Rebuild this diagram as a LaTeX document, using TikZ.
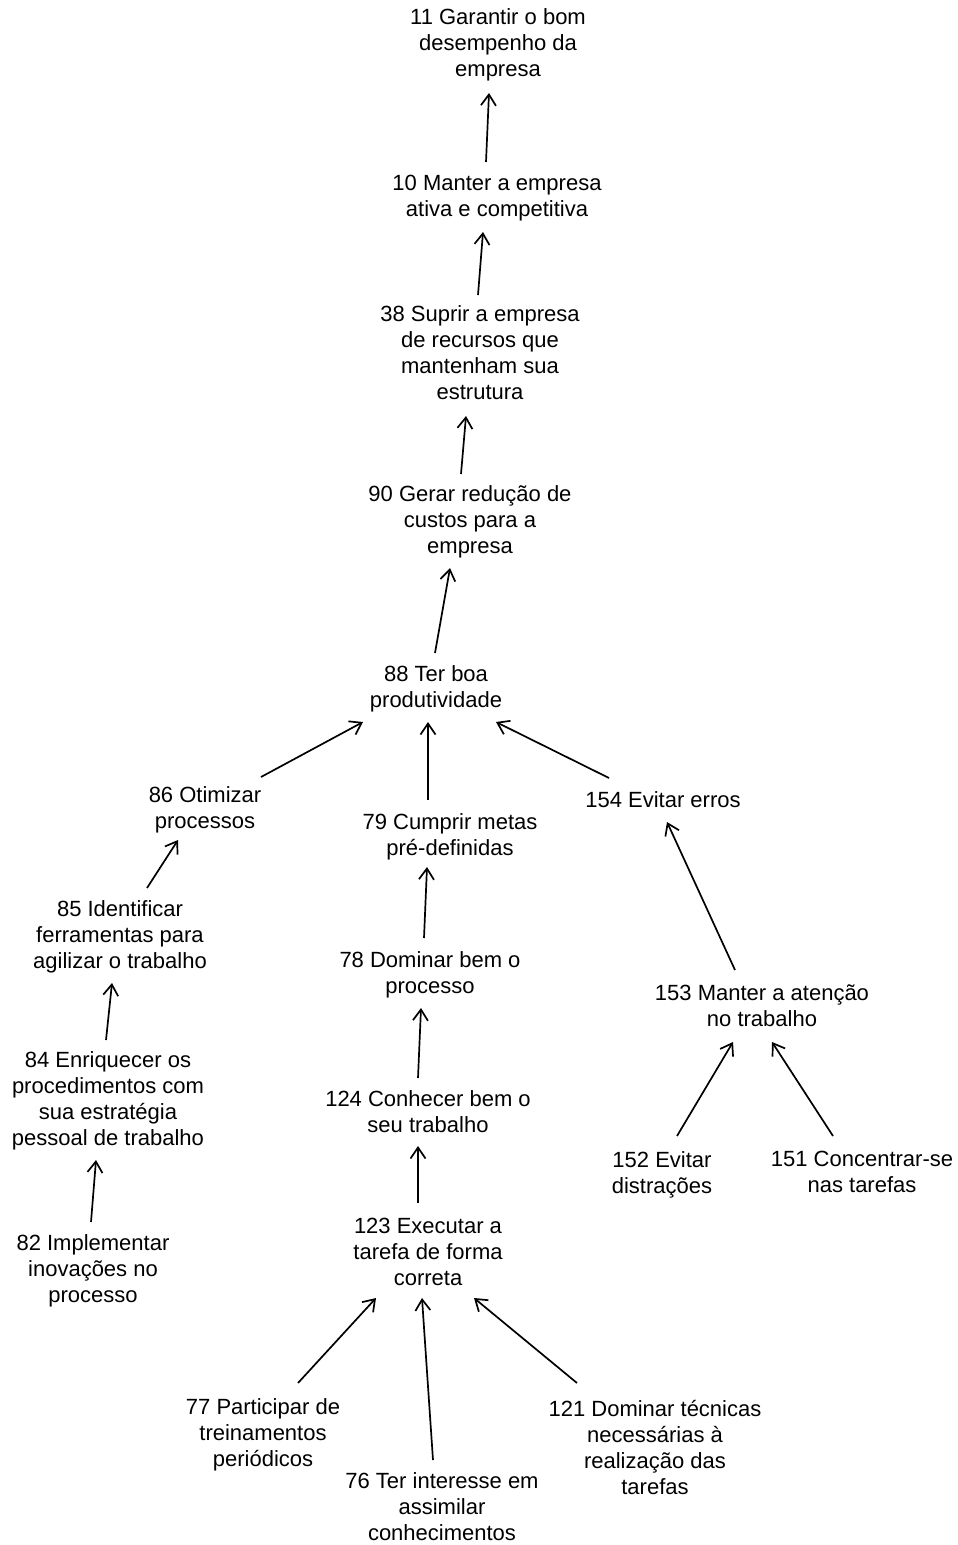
\documentclass[tikz,border=0pt]{standalone}
\usepackage{fontspec}
\setmainfont{Liberation Sans}
\usetikzlibrary{arrows.meta}
\begin{document}
\begin{tikzpicture}[x=1pt,y=-1pt,
  lbl/.style={align=center,inner sep=0pt,font=\fontsize{22}{26}\selectfont},
  arr/.style={line width=1.7pt,-{Straight Barb[length=11pt,width=15pt]}}]
\useasboundingbox (0,0) rectangle (958,1545);

% goals, top to bottom
\node[lbl] (n11)  at (498,45)   {11 Garantir o bom\\desempenho da\\empresa};
\node[lbl] (n10)  at (497,198)  {10 Manter a empresa\\ativa e competitiva};
\node[lbl] (n38)  at (480,353)  {38 Suprir a empresa\\de recursos que\\mantenham sua\\estrutura};
\node[lbl] (n90)  at (470,522)  {90 Gerar redução de\\custos para a\\empresa};
\node[lbl] (n88)  at (436,689)  {88 Ter boa\\produtividade};
\node[lbl] (n86)  at (205,810)  {86 Otimizar\\processos};
\node[lbl] (n79)  at (450,837)  {79 Cumprir metas\\pré-definidas};
\node[lbl] (n154) at (663,800)  {154 Evitar erros};
\node[lbl] (n85)  at (120,937)  {85 Identificar\\ferramentas para\\agilizar o trabalho};
\node[lbl] (n78)  at (430,975)  {78 Dominar bem o\\processo};
\node[lbl] (n153) at (762,1006) {153 Manter a atenção\\no trabalho};
\node[lbl] (n84)  at (108,1101) {84 Enriquecer os\\procedimentos com\\sua estratégia\\pessoal de trabalho};
\node[lbl] (n124) at (428,1112) {124 Conhecer bem o\\seu trabalho};
\node[lbl] (n152) at (662,1175) {152 Evitar\\distrações};
\node[lbl] (n151) at (862,1172) {151 Concentrar-se\\nas tarefas};
\node[lbl] (n82)  at (93,1271)  {82 Implementar\\inovações no\\processo};
\node[lbl] (n123) at (428,1252) {123 Executar a\\tarefa de forma\\correta};
\node[lbl] (n77)  at (263,1435) {77 Participar de\\treinamentos\\periódicos};
\node[lbl] (n121) at (655,1447) {121 Dominar técnicas\\necessárias à\\realização das\\tarefas};
\node[lbl] (n76)  at (442,1507) {76 Ter interesse em\\assimilar\\conhecimentos};

% means-end links
\draw[arr] ([shift={(-11,-36)}]n10.center)  -- ([shift={(-9,48)}]n11.center);
\draw[arr] ([shift={(-2,-58)}]n38.center)   -- ([shift={(-14,34)}]n10.center);
\draw[arr] ([shift={(-9,-48)}]n90.center)   -- ([shift={(-14,63)}]n38.center);
\draw[arr] ([shift={(-1,-36)}]n88.center)   -- ([shift={(-20,46)}]n90.center);
\draw[arr] ([shift={(56,-33)}]n86.center)   -- ([shift={(-73,33)}]n88.center);
\draw[arr] ([shift={(-22,-37)}]n79.center)  -- ([shift={(-8,33)}]n88.center);
\draw[arr] ([shift={(-54,-22)}]n154.center) -- ([shift={(60,33)}]n88.center);
\draw[arr] ([shift={(27,-49)}]n85.center)   -- ([shift={(-27,30)}]n86.center);
\draw[arr] ([shift={(-2,-61)}]n84.center)   -- ([shift={(-8,46)}]n85.center);
\draw[arr] ([shift={(-2,-49)}]n82.center)   -- ([shift={(-12,59)}]n84.center);
\draw[arr] ([shift={(-6,-37)}]n78.center)   -- ([shift={(-23,30)}]n79.center);
\draw[arr] ([shift={(-10,-34)}]n124.center) -- ([shift={(-9,33)}]n78.center);
\draw[arr] ([shift={(-10,-49)}]n123.center) -- ([shift={(-10,34)}]n124.center);
\draw[arr] ([shift={(35,-52)}]n77.center)   -- ([shift={(-52,46)}]n123.center);
\draw[arr] ([shift={(-9,-47)}]n76.center)   -- ([shift={(-6,46)}]n123.center);
\draw[arr] ([shift={(-78,-64)}]n121.center) -- ([shift={(46,46)}]n123.center);
\draw[arr] ([shift={(-27,-36)}]n153.center) -- ([shift={(4,22)}]n154.center);
\draw[arr] ([shift={(15,-39)}]n152.center)  -- ([shift={(-29,36)}]n153.center);
\draw[arr] ([shift={(-29,-36)}]n151.center) -- ([shift={(10,36)}]n153.center);
\end{tikzpicture}
\end{document}
